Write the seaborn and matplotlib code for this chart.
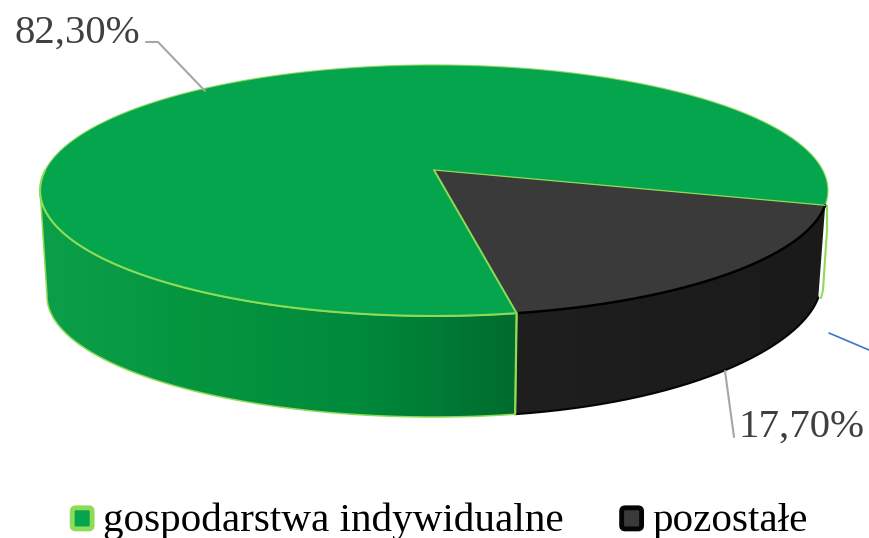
import numpy as np
import matplotlib
matplotlib.use("Agg")
import matplotlib.pyplot as plt
import seaborn as sns
from matplotlib.colors import LinearSegmentedColormap
from matplotlib.legend_handler import HandlerPatch
from matplotlib.patches import FancyBboxPatch, Patch, PathPatch
from matplotlib.path import Path

labels = ["gospodarstwa indywidualne", "pozostałe"]
shares = [82.3, 17.7]
top_colors = ["#05a54d", "#3a3a3a"]
edge_colors = ["#8edb55", "#050505"]

sns.set_theme(style="white")
plt.rcParams["font.family"] = ["Liberation Serif", "DejaVu Serif"]

LIME = "#8edb55"
CX, CY = 434, 170
K = 0.163


# top face of the disc, seen in perspective
def top_face(u, v):
    return CX + 388.7 * u / (1 + K * v), CY - 122.2 * v / (1 + K * v)


# rim at the bottom of the disc
def bottom_face(u, v):
    uu = u * np.sqrt(1 - K ** 2) / (1 + K * v)
    vv = (v + K) / (1 + K * v)
    return CX + 387 * uu, 296 - 121 * vv - 13 * np.clip(uu, 0, 1) ** 3


def arc(func, a, b, n=200):
    t = np.radians(np.linspace(a, b, n))
    x, y = func(np.cos(t), np.sin(t))
    return np.column_stack([x, y])


def side_path(a, b):
    pts = np.vstack([arc(top_face, a, b), arc(bottom_face, a, b)[::-1]])
    return Path(np.vstack([pts, pts[0]]), closed=True)


fig, ax = plt.subplots(figsize=(8.69, 5.38), dpi=100)
fig.subplots_adjust(0, 0, 1, 1)

wedges, _ = ax.pie(shares, startangle=-16, colors=sns.color_palette(top_colors), frame=True)
angles = [(w.theta1, w.theta2) for w in wedges]
for w in wedges:
    w.remove()
ax.set_aspect("auto")
ax.set_xlim(0, 869)
ax.set_ylim(538, 0)
ax.axis("off")

green, dark = angles
cut = green[1]

# side walls, shaded from left to right
green_cmap = LinearSegmentedColormap.from_list("g", ["#0c9f4a", "#05953f", "#008a3c", "#006c2e"])
dark_cmap = LinearSegmentedColormap.from_list("d", ["#1f1f1f", "#1a1a1a"])
grad = np.linspace(0, 1, 256).reshape(1, -1)

p = PathPatch(side_path(189, cut), fc="none", ec=LIME, lw=1.1, zorder=2)
ax.add_patch(p)
im = ax.imshow(grad, cmap=green_cmap, extent=(41, 516, 420, 180), aspect="auto", zorder=1)
im.set_clip_path(p)

# small lime sliver behind the right end of the dark wall
sliver = np.array([[827, 206], [827, 230], [823, 290], [821, 298]])
ax.plot(sliver[:, 0], sliver[:, 1], color=LIME, lw=1.5, zorder=1)

p = PathPatch(side_path(cut, dark[1]), fc="none", ec="none", zorder=2)
ax.add_patch(p)
im = ax.imshow(grad, cmap=dark_cmap, extent=(514, 826, 420, 200), aspect="auto", zorder=1)
im.set_clip_path(p)
low = arc(bottom_face, cut, dark[1])
ax.plot(low[:, 0], low[:, 1], color="#050505", lw=1.5, zorder=3)

# top face
for (a, b), c in zip(angles, top_colors):
    pts = np.vstack([[CX, CY], arc(top_face, a, b, 400), [CX, CY]])
    ax.add_patch(PathPatch(Path(pts, closed=True), fc=c, ec="none", zorder=4))

rim = arc(top_face, green[0], 180, 300)
ax.plot(rim[:, 0], rim[:, 1], color=LIME, lw=0.9, alpha=0.8, zorder=5)
rim = arc(top_face, 180, cut, 200)
ax.plot(rim[:, 0], rim[:, 1], color=LIME, lw=1.5, zorder=5)
rim = arc(top_face, *dark)
ax.plot(rim[:, 0], rim[:, 1], color="#000000", lw=1.8, zorder=5)
end = arc(top_face, cut, cut, 1)[0]
ax.plot([CX, end[0]], [CY, end[1]], color=LIME, lw=1.4, zorder=6)
end3 = arc(top_face, dark[1], dark[1], 1)[0]
ax.plot([CX, end3[0]], [CY, end3[1]], color=LIME, lw=0.9, zorder=6)
end2 = arc(bottom_face, cut, cut, 1)[0]
ax.plot([end[0], end2[0]], [end[1], end2[1]], color=LIME, lw=1.6, zorder=6)

# leader lines and labels
GREY = "#a6a6a6"
ax.plot([146, 158, 205], [42, 42, 91], color=GREY, lw=1.5, zorder=7)
ax.plot([725, 734], [371, 437], color=GREY, lw=1.5, zorder=7)
ax.plot([829, 869], [333, 350], color="#4472c4", lw=1.2, zorder=7)

txt = [f"{v:.2f}%".replace(".", ",") for v in shares]
ax.text(15, 43, txt[0], fontsize=29.4, color="#404040", ha="left", va="baseline")
ax.text(738, 437, txt[1], fontsize=29.4, color="#404040", ha="left", va="baseline")


def rounded(legend, orig_handle, xdescent, ydescent, width, height, fontsize):
    return FancyBboxPatch((-xdescent + 3.5, -ydescent + 2), width - 7, height - 7,
                          boxstyle="round,pad=1.5,rounding_size=2.5")


handles = [Patch(fc=top_colors[i], ec=edge_colors[i], lw=3.5, label=labels[i]) for i in range(2)]
ax.legend(handles=handles, loc="center", bbox_to_anchor=(438.5 / 869, 1 - 521 / 538), ncol=2,
          frameon=False, fontsize=29.6, handlelength=0.62, handleheight=0.62,
          handletextpad=0.19, columnspacing=1.35, borderpad=0, labelcolor="#000000",
          handler_map={Patch: HandlerPatch(patch_func=rounded)})

fig.savefig("out.png", dpi=100, facecolor="white")
